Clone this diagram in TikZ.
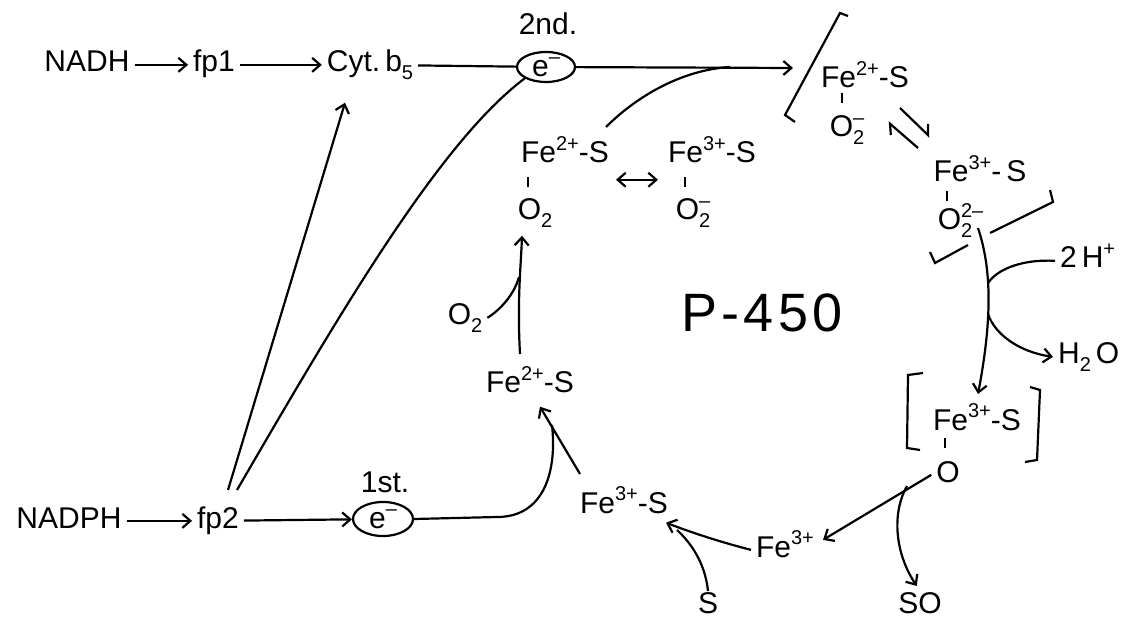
\documentclass[tikz,border=0pt]{standalone}
\usepackage{fontspec}
\setmainfont{Liberation Sans}
\newfontfamily\bigfont[LetterSpace=8]{Liberation Sans}
\usetikzlibrary{arrows.meta,shapes.geometric,calc}
\newcommand\supr[1]{\raisebox{0.8ex}{\fontsize{10}{10}\selectfont #1}}
\newcommand\subr[1]{\raisebox{-0.5ex}{\fontsize{10}{10}\selectfont #1}}

\begin{document}
\begin{tikzpicture}[x=0.5pt,y=-0.5pt,line width=1.1pt,
  font=\fontsize{15}{18}\selectfont,
  lbl/.style={inner sep=2pt,text height=1.6ex,text depth=.25ex,anchor=base},
  elec/.style={ellipse,draw,inner sep=0pt,minimum width=29pt,minimum height=15pt},
  arr/.style={-{Straight Barb[length=4pt,width=7pt]}},
  harp/.style={-{Straight Barb[length=4pt,width=8pt,harpoon]}}]
\useasboundingbox (0,0) rectangle (1133,619);
% NADH chain and the 2nd electron
\node[lbl] (nadh) at (87,72) {NADH};
\node[lbl] (fpa) at (214,72) {fp1};
\node[lbl] (cytb) at (370,72) {Cyt.\,b\subr{5}};
\node[elec] (ella) at (546,67) {e\supr{--}};
\node[lbl] (snd) at (548,35) {2nd.};
% NADPH chain and the 1st electron
\node[lbl] (nadph) at (69,528) {NADPH};
\node[lbl] (fpb) at (218,528) {fp2};
\node[elec,minimum width=30pt,minimum height=17pt] (ellb) at (383,519) {e\supr{--}};
\node[lbl] (fst) at (385,492) {1st.};
% the cycle
\node[lbl] (fea) at (565,163) {Fe\supr{2+}-S};
\node[lbl] (oa) at (535,220) {O\subr{2}};
\node[lbl] (fe3a) at (712,163) {Fe\supr{3+}-S};
\node[lbl] (ob) at (693,220) {O\rlap{\supr{--}}\subr{2}};
\node[lbl] (fe2c) at (865,88) {Fe\supr{2+}-S};
\node[lbl] (oc) at (847,137) {O\rlap{\supr{--}}\subr{2}};
\node[lbl] (fe3e) at (980,182) {Fe\supr{3+}-\,S};
\node[lbl] (od) at (955,230) {O\rlap{\supr{2--}}\subr{2}};
\node[lbl,anchor=base west] (htwo) at (1055,268) {2\,H\supr{+}};
\node[lbl,anchor=base west] (water) at (1053,364) {H\subr{2}\,O};
\node[lbl] (fe3d) at (977,430) {Fe\supr{3+}-S};
\node[lbl] (oe) at (948,482) {O};
\node[lbl] (so) at (920,613) {SO};
\node[lbl] (fe3c) at (785,557) {Fe\supr{3+}};
\node[lbl] (sa) at (708,613) {S};
\node[lbl] (fe3b) at (624,513) {Fe\supr{3+}-S};
\node[lbl] (fe2b) at (530,393) {Fe\supr{2+}-S};
\node[lbl] (ox) at (465,325) {O\subr{2}};
\node[lbl,font={\fontsize{27}{30}\bigfont}] (pfh) at (762,332) {P-450};
% points where lines meet or end
\coordinate (tipa) at (793,68);
\coordinate (mrga) at (730,67);
\coordinate (fean) at ($(fea.north east)+(-8,-14)$);
\coordinate (cytin) at ($(cytb.south)+(-25,23)$);
\coordinate (fpbl) at ($(fpb.north)+(10,-16)$);
\coordinate (fpbr) at ($(fpb.north)+(19,-16)$);
\coordinate (ebin) at ($(fe2b.south)+(10,6)$);
\coordinate (mrgb) at (552,425);
\coordinate (mrgo) at (519,277);
\coordinate (eqa) at (900,108);
\coordinate (eqb) at (930,137);
\coordinate (eqc) at (918,148);
\coordinate (eqd) at (888,122);
\coordinate (dnst) at (978,228);
\coordinate (mrgh) at (988,283);
\coordinate (brw) at (988,314);
\coordinate (sob) at (907,486);
\coordinate (mrgs) at (677,530);
% electron supply
\draw[arr] (nadh) -- (fpa);
\draw[arr] (fpa) -- (cytb);
\draw (cytb) -- (ella);
\draw[arr] (ella) -- (tipa);
\draw (fean) .. controls (635,98) and (680,70) .. (mrga);
\draw[arr] (fpbl) -- (cytin);
\draw (fpbr) .. controls (341,311) and (440,142) .. (ella.south west);
\draw[arr] (nadph) -- (fpb);
\draw[arr] (fpb) -- (ellb);
\draw (ellb.east) -- (497,517) .. controls (545,517) and (557,470) .. (mrgb);
% cycle arrows
\draw[arr] ($(fe3b.north west)+(5,-17)$) -- (ebin);
\draw[arr] ($(fe2b.north)+(-10,-17)$) .. controls (517,300) and (521,265) .. ($(oa.south)+(-13,8)$);
\draw (ox.east) .. controls (500,310) and (514,295) .. (mrgo);
\draw[{Straight Barb[length=4pt,width=7pt]}-{Straight Barb[length=4pt,width=7pt]}]
  ($(fea.south east)+(2,9)$) -- ($(fe3a.south west)+(-5,9)$);
\draw[harp] (eqa) -- (eqb);
\draw[harp] (eqc) -- (eqd);
\draw[arr] (dnst) .. controls (992,270) and (992,320) .. ($(fe3d.north)+(1,-14)$);
\draw (htwo.west) .. controls (1025,259) and (998,268) .. (mrgh);
\draw[arr] (brw) .. controls (995,335) and (1020,352) .. (water.west);
\draw[arr] (oe.west) -- ($(fe3c.east)+(4,-10)$);
\draw[arr,shorten >=3pt] (sob) .. controls (893,510) and (893,550) .. (so.north);
\draw[arr] (fe3c.west) .. controls (720,542) and (690,532) .. ($(fe3b.south east)+(-7,2)$);
\draw (sa.north) .. controls (705,562) and (690,542) .. (mrgs);
% bonds and brackets
\foreach \x/\y in {528/177,685/177,842/93,947/191,945/438} \draw (\x,\y) -- ++(0,10);
\draw (848,16) -- (840,13) -- (785,115) -- (795,122);
\draw (1050,190) -- (1053,202) -- (990,233);
\draw (930,252) -- (935,263) -- (968,245);
\draw (923,373) -- (908,375) -- (907,448) -- (920,450);
\draw (1030,387) -- (1040,390) -- (1037,460) -- (1025,462);
\end{tikzpicture}
\end{document}
